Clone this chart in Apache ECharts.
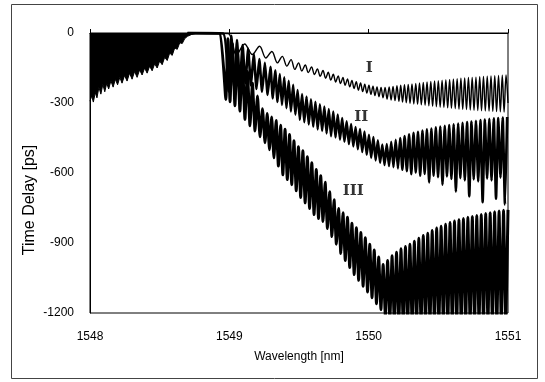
<!DOCTYPE html>
<html>
<head>
<meta charset="utf-8">
<script src="https://cdn.jsdelivr.net/npm/echarts@6.0.0/dist/echarts.min.js"></script>
<style>
  html, body { margin: 0; padding: 0; background: #fff; }
  #chart_container { width: 545px; height: 382px; }
</style>
</head>
<body>
<div id="chart_container"></div>
<script>
"use strict";

// values: [wavelength nm, time delay ps]

// dense part left of the pass band, shared by all three gratings (lower edge)
const commonEdge = [
  [1548.000, -292], [1548.012, -270], [1548.024, -296], [1548.038, -255], [1548.050, -278],
  [1548.064, -232], [1548.078, -262], [1548.092, -220], [1548.106, -252], [1548.120, -215],
  [1548.134, -240], [1548.150, -205], [1548.166, -232], [1548.182, -198], [1548.198, -222],
  [1548.214, -190], [1548.230, -215], [1548.248, -182], [1548.266, -206], [1548.284, -172],
  [1548.302, -198], [1548.320, -165], [1548.338, -190], [1548.356, -158], [1548.374, -180],
  [1548.392, -150], [1548.410, -172], [1548.428, -142], [1548.446, -162], [1548.464, -132],
  [1548.482, -150], [1548.500, -120], [1548.518, -136], [1548.536, -104], [1548.554, -118],
  [1548.572, -86], [1548.590, -96], [1548.608, -64], [1548.626, -70], [1548.644, -42],
  [1548.662, -45], [1548.680, -24], [1548.700, -14], [1548.730, -6], [1548.760, -2], [1548.800, 0]
];

// curve I
const curve1 = [
  [1548.70, 0], [1548.99, -2], [1549.02, -40], [1549.05, -95], [1549.11, -47], [1549.165, -92],
  [1549.217, -57], [1549.262, -107], [1549.305, -79], [1549.345, -128], [1549.38, -100],
  [1549.413, -142], [1549.443, -114], [1549.47, -156], [1549.497, -128], [1549.52, -163],
  [1549.545, -137], [1549.567, -170], [1549.59, -146], [1549.611, -178], [1549.632, -154],
  [1549.652, -186], [1549.672, -161], [1549.691, -194], [1549.71, -168], [1549.728, -202],
  [1549.746, -177], [1549.763, -210], [1549.781, -184], [1549.798, -217], [1549.815, -191],
  [1549.831, -224], [1549.848, -197], [1549.864, -231], [1549.88, -203], [1549.895, -238],
  [1549.911, -209], [1549.926, -245], [1549.942, -214], [1549.957, -251], [1549.972, -219],
  [1549.987, -257], [1550.002, -224], [1550.016, -263], [1550.031, -228], [1550.045, -268],
  [1550.06, -231], [1550.074, -273], [1550.089, -233], [1550.103, -278], [1550.118, -233],
  [1550.132, -283], [1550.147, -231], [1550.161, -287], [1550.175, -229], [1550.189, -290],
  [1550.203, -226], [1550.217, -293], [1550.23, -224], [1550.243, -296], [1550.257, -222],
  [1550.27, -299], [1550.284, -220], [1550.297, -301], [1550.311, -218], [1550.324, -304],
  [1550.338, -216], [1550.351, -306], [1550.365, -214], [1550.378, -308], [1550.392, -212],
  [1550.405, -310], [1550.419, -210], [1550.432, -312], [1550.446, -208], [1550.459, -314],
  [1550.473, -206], [1550.486, -316], [1550.5, -204], [1550.513, -318], [1550.527, -202],
  [1550.54, -319], [1550.554, -200], [1550.567, -321], [1550.581, -199], [1550.594, -323],
  [1550.608, -197], [1550.621, -324], [1550.635, -196], [1550.648, -326], [1550.662, -194],
  [1550.675, -327], [1550.689, -193], [1550.702, -328], [1550.716, -191], [1550.729, -330],
  [1550.743, -190], [1550.756, -331], [1550.77, -189], [1550.783, -332], [1550.797, -187],
  [1550.81, -333], [1550.824, -186], [1550.837, -334], [1550.851, -185], [1550.864, -335],
  [1550.878, -184], [1550.891, -336], [1550.905, -183], [1550.918, -337], [1550.932, -182],
  [1550.945, -338], [1550.959, -181], [1550.972, -339], [1550.986, -180], [1551.0, -300]
];

// curve II
const curve2 = [
  [1548.70, 0], [1548.955, -2], [1548.995, -250], [1549.015, -12], [1549.035, -235], [1549.055, -30],
  [1549.075, -222], [1549.095, -52], [1549.115, -215], [1549.135, -68], [1549.155, -225],
  [1549.175, -90], [1549.195, -240], [1549.215, -112], [1549.235, -252], [1549.255, -128],
  [1549.275, -265], [1549.295, -145], [1549.312, -280], [1549.329, -160], [1549.346, -296],
  [1549.362, -176], [1549.378, -308], [1549.394, -190], [1549.41, -322], [1549.426, -205],
  [1549.442, -336], [1549.458, -222], [1549.474, -350], [1549.49, -245], [1549.506, -372],
  [1549.522, -262], [1549.538, -382], [1549.554, -272], [1549.57, -392], [1549.586, -284],
  [1549.602, -402], [1549.618, -295], [1549.634, -413], [1549.65, -306], [1549.666, -420],
  [1549.682, -315], [1549.698, -430], [1549.714, -326], [1549.73, -442], [1549.746, -337],
  [1549.762, -448], [1549.778, -350], [1549.794, -457], [1549.81, -365], [1549.826, -466],
  [1549.842, -378], [1549.858, -476], [1549.874, -390], [1549.89, -486], [1549.906, -403],
  [1549.922, -498], [1549.938, -412], [1549.954, -510], [1549.97, -422], [1549.986, -522],
  [1550.002, -436], [1550.018, -535], [1550.034, -446], [1550.05, -546], [1550.066, -460],
  [1550.082, -556], [1550.098, -478], [1550.114, -566], [1550.13, -476], [1550.146, -570],
  [1550.162, -466], [1550.178, -575], [1550.194, -458], [1550.21, -580], [1550.226, -450],
  [1550.242, -586], [1550.258, -442], [1550.274, -592], [1550.29, -434], [1550.306, -605],
  [1550.322, -428], [1550.338, -598], [1550.354, -423], [1550.37, -612], [1550.386, -418],
  [1550.402, -604], [1550.418, -413], [1550.434, -640], [1550.45, -409], [1550.466, -612],
  [1550.482, -404], [1550.498, -618], [1550.514, -401], [1550.53, -650], [1550.546, -398],
  [1550.562, -615], [1550.578, -394], [1550.594, -626], [1550.61, -391], [1550.626, -680],
  [1550.642, -388], [1550.658, -622], [1550.674, -385], [1550.69, -632], [1550.706, -382],
  [1550.722, -700], [1550.738, -379], [1550.754, -628], [1550.77, -376], [1550.786, -636],
  [1550.802, -373], [1550.818, -725], [1550.834, -371], [1550.85, -624], [1550.866, -368],
  [1550.882, -632], [1550.898, -366], [1550.914, -710], [1550.93, -364], [1550.946, -620],
  [1550.962, -362], [1550.978, -735], [1550.994, -360]
];

// curve III
const curve3 = [
  [1548.70, 0], [1548.93, -2], [1548.975, -285], [1548.99, -25], [1549.005, -295], [1549.022, -45],
  [1549.04, -312], [1549.058, -75], [1549.076, -335], [1549.094, -120], [1549.112, -370],
  [1549.13, -165], [1549.148, -398], [1549.166, -215], [1549.184, -420], [1549.202, -270],
  [1549.22, -445], [1549.238, -325], [1549.256, -470], [1549.272, -345], [1549.288, -500],
  [1549.304, -360], [1549.32, -535], [1549.336, -375], [1549.352, -570], [1549.368, -395],
  [1549.384, -608], [1549.4, -412], [1549.416, -628], [1549.432, -435], [1549.448, -650],
  [1549.464, -462], [1549.48, -676], [1549.496, -488], [1549.512, -705], [1549.528, -505],
  [1549.544, -728], [1549.56, -530], [1549.576, -752], [1549.592, -556], [1549.608, -778],
  [1549.624, -585], [1549.64, -795], [1549.656, -612], [1549.672, -808], [1549.688, -640],
  [1549.704, -838], [1549.72, -680], [1549.736, -872], [1549.752, -715], [1549.768, -905],
  [1549.784, -752], [1549.8, -945], [1549.816, -770], [1549.832, -975], [1549.848, -790],
  [1549.864, -1005], [1549.88, -815], [1549.896, -1035], [1549.912, -835], [1549.928, -1060],
  [1549.944, -855], [1549.96, -1085], [1549.976, -878], [1549.992, -1110], [1550.008, -905],
  [1550.024, -1135], [1550.04, -930], [1550.056, -1160], [1550.072, -960], [1550.088, -1185],
  [1550.104, -992], [1550.12, -1215], [1550.136, -975], [1550.152, -1230], [1550.168, -955],
  [1550.184, -1240], [1550.2, -940], [1550.216, -1250], [1550.232, -925], [1550.248, -1250],
  [1550.264, -915], [1550.28, -1250], [1550.296, -905], [1550.312, -1250], [1550.328, -892],
  [1550.344, -1250], [1550.36, -880], [1550.376, -1250], [1550.392, -868], [1550.408, -1250],
  [1550.424, -858], [1550.44, -1250], [1550.456, -846], [1550.472, -1250], [1550.488, -836],
  [1550.504, -1250], [1550.52, -828], [1550.536, -1250], [1550.552, -820], [1550.568, -1250],
  [1550.584, -812], [1550.6, -1250], [1550.616, -806], [1550.632, -1250], [1550.648, -800],
  [1550.664, -1250], [1550.68, -795], [1550.696, -1250], [1550.712, -790], [1550.728, -1250],
  [1550.744, -786], [1550.76, -1250], [1550.776, -782], [1550.792, -1250], [1550.808, -778],
  [1550.824, -1250], [1550.84, -774], [1550.856, -1250], [1550.872, -770], [1550.888, -1250],
  [1550.904, -766], [1550.92, -1250], [1550.936, -763], [1550.952, -1250], [1550.968, -760],
  [1550.984, -1250], [1551.0, -758]
];

// curve tags, placed in data space
const curveTags = [[1550.004, -150, 'I'], [1549.947, -360, 'II'], [1549.89, -677, 'III']];

const fontMain = "'Liberation Sans', Arial, sans-serif";

let pageLoaded = () => {
    let chartDom = document.getElementById('chart_container');
    let myChart = echarts.init(chartDom, null, { renderer: 'canvas' });

    let curveSeries = (data, w, sm) => ({
        type: 'line',
        data: data,
        showSymbol: false,
        smooth: sm,
        lineStyle: { color: '#000', width: w, join: 'miter', miterLimit: 3 },
        silent: true
    });

    let plainNum = (v) => String(v);

    let optEchart = {
        animation: false,
        backgroundColor: '#fff',
        grid: { left: 90, right: 37, top: 33, bottom: 69, show: true, borderColor: '#000', borderWidth: 1 },
        xAxis: {
            type: 'value', min: 1548, max: 1551, interval: 1,
            name: 'Wavelength [nm]', nameLocation: 'middle', nameGap: 38,
            nameTextStyle: { fontFamily: fontMain, fontSize: 12, color: '#000' },
            axisLine: { lineStyle: { color: '#000' } },
            axisTick: { inside: true, length: 4, lineStyle: { color: '#000' } },
            axisLabel: { fontFamily: fontMain, fontSize: 12, color: '#000', margin: 18, formatter: plainNum },
            splitLine: { show: false }
        },
        yAxis: {
            type: 'value', min: -1200, max: 0, interval: 300,
            name: 'Time Delay [ps]', nameLocation: 'middle', nameGap: 52, nameRotate: 90,
            nameMoveOverlap: false,
            nameTextStyle: { fontFamily: fontMain, fontSize: 16, color: '#000', padding: [0, 54, 0, 0] },
            axisLine: { lineStyle: { color: '#000' } },
            axisTick: { show: false },
            axisLabel: { fontFamily: fontMain, fontSize: 12, color: '#000', margin: 16, formatter: plainNum },
            splitLine: { show: false }
        },
        graphic: [{
            type: 'rect', silent: true,
            shape: { x: 11.5, y: 4.5, width: 526, height: 374 },
            style: { fill: 'none', stroke: '#444', lineWidth: 1 }
        }],
        series: [
            {
                type: 'line', data: commonEdge, showSymbol: false, silent: true,
                lineStyle: { color: '#000', width: 1 },
                areaStyle: { color: '#000', opacity: 1, origin: 'end' }
            },
            curveSeries(curve1, 1.4, 0.35),
            curveSeries(curve2, 2.6, 0.15),
            curveSeries(curve3, 3.0, 0.1),
            {
                type: 'scatter', silent: true, symbolSize: 0,
                data: curveTags.map(t => ({ value: [t[0], t[1]], name: t[2] })),
                label: {
                    show: true, position: 'inside', formatter: '{b}', color: '#000',
                    fontFamily: "'DejaVu Serif', 'Liberation Serif', serif", fontSize: 15, fontWeight: 'bold'
                }
            }
        ]
    };

    optEchart && myChart.setOption(optEchart);
    console.log(`pageLoaded() complete`);
};

window.addEventListener('load', pageLoaded, false);
</script>
</body>
</html>
